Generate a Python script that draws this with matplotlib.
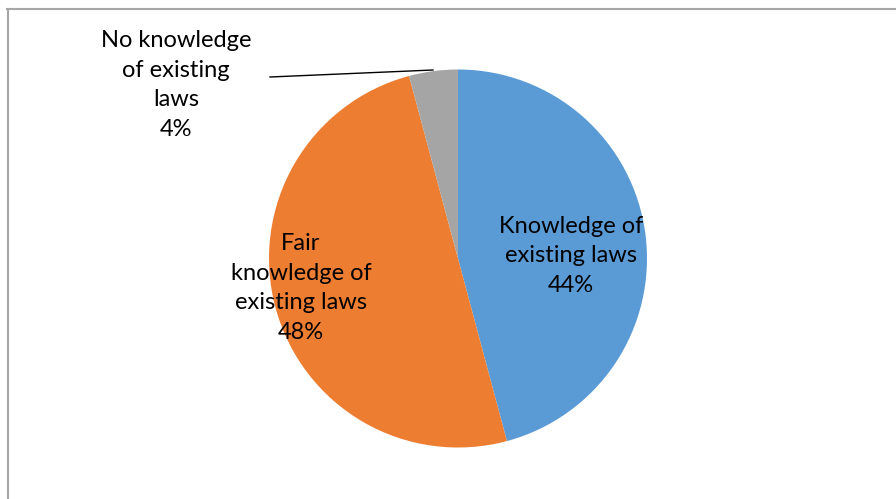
import matplotlib; matplotlib.use("Agg")
import matplotlib.pyplot as plt

plt.rcParams.update({"font.family": ["Lato", "DejaVu Sans"]})

# survey shares (percent)
categories = ["Knowledge of\nexisting laws", "Fair\nknowledge of\nexisting laws", "No knowledge\nof existing\nlaws"]
shares = [44, 48, 4]
colors = ["#5B9BD5", "#ED7D31", "#A5A5A5"]

W, H = 896, 499
fig = plt.figure(figsize=(W / 100, H / 100), dpi=100)
ax = fig.add_axes([0, 0, 1, 1])
ax.set_xlim(0, W); ax.set_ylim(0, H); ax.axis("off")

# chart frame (only left and top edges show)
ax.plot([7.5, 7.5], [0, H - 8.5], color="#A6A6A6", lw=1.5)
ax.plot([7, W], [H - 8.5, H - 8.5], color="#A6A6A6", lw=1.5)

cx, cy, r = 458, H - 258.5, 189
ax.pie(shares, colors=colors, startangle=90, counterclock=False,
       center=(cx, cy), radius=r, frame=True,
       wedgeprops={"linewidth": 0})
ax.set_xlim(0, W); ax.set_ylim(0, H); ax.axis("off")

# data labels
label_pos = [(571, H - 256), (301, H - 288), (176, H - 85)]
for name, v, (x, y) in zip(categories, shares, label_pos):
    ax.text(x, y, f"{name}\n{v}%", ha="center", va="center", fontsize=17,
            linespacing=1.5, color="#000000")

# leader line for the small slice
ax.plot([270, 433], [H - 77, H - 70], color="#000000", lw=1)

fig.savefig("out.png", dpi=100)
